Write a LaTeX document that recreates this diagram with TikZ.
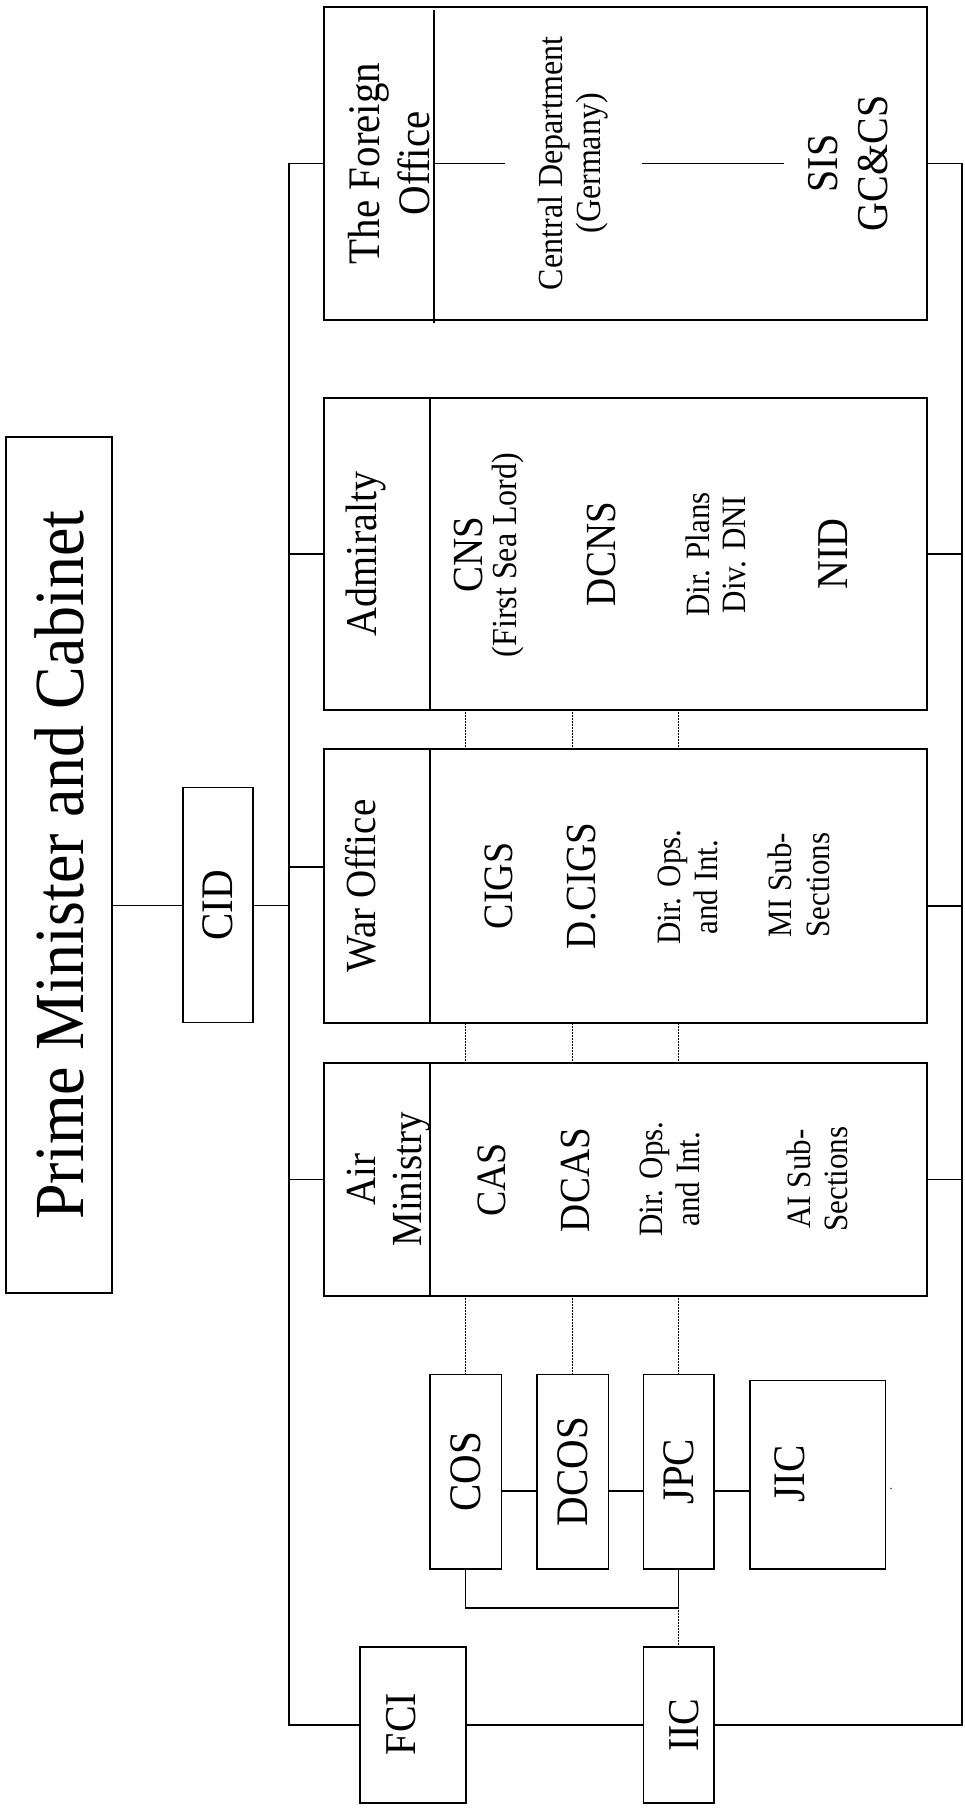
\documentclass[tikz,border=0pt]{standalone}
\usepackage{fontspec}
\setmainfont{Liberation Serif}
\usepackage{graphicx}
\newcommand\myfs[2]{\fontsize{#1}{#2}\selectfont}
\newcommand\rottxt[1]{\rotatebox{90}{\scalebox{1}[1.1]{#1}}}
\begin{document}
\begin{tikzpicture}[x=1pt,y=-1pt,
 box/.style={draw, line width=1.5pt, inner sep=0pt, outer sep=0pt, rectangle},
 dims/.style 2 args={minimum width=#1pt, minimum height=#2pt},
 conn/.style={line width=1.25pt},
 divline/.style={line width=1.4pt},
 dotconn/.style={line width=0.9pt, dash pattern=on 0.9pt off 0.6pt},
 lbl/.style={rotate=90, yscale=1.1, align=center, inner sep=0pt},
]
\fill[white] (0,0) rectangle (964,1809);
\path[use as bounding box] (0,0) rectangle (964,1809);

% top-level boxes
\node[box, dims={106}{856}, font=\myfs{64}{70}] (pm) at (59,865) {\rottxt{Prime Minister and Cabinet}};
\node[box, dims={70}{235}, font=\myfs{41}{48}] (cid) at (218,905.2) {\rottxt{CID}};

% ministry boxes
\node[box, dims={603}{313}] (fo) at (625.5,163.4) {};
\node[box, dims={603}{312.3}] (adm) at (625.5,553.9) {};
\node[box, dims={603}{273.7}] (wo) at (625.5,885.9) {};
\node[box, dims={603}{233.3}] (air) at (625.5,1179.4) {};

% dividers
\draw[divline] (434,10) -- (434,323);
\draw[divline] (430,397.7) -- (430,710);
\draw[divline] (430,749) -- (430,1022.7);
\draw[divline] (430,1062.7) -- (430,1296);

% committee boxes
\node[box, dims={71.5}{194.4}, font=\myfs{41}{48}] (cos) at (465.75,1471.8) {\rottxt{COS}};
\node[box, dims={71.5}{194.4}, font=\myfs{41}{48}] (dcos) at (572.75,1471.8) {\rottxt{DCOS}};
\node[box, dims={70.5}{194.4}, font=\myfs{41}{48}] (jpc) at (678.75,1471.8) {\rottxt{JPC}};
\node[box, dims={135.7}{188.4}] (jic) at (817.85,1474.8) {};
\node[box, dims={106}{156}] (fci) at (413,1725) {};
\node[box, dims={70.5}{156}] (iic) at (678.75,1725) {};

% Foreign Office texts
\node[lbl, font=\myfs{41}{46}] (fot) at (389,163.4) {The Foreign\\Office};
\node[lbl, font=\myfs{32}{35}] (cdt) at (573,163.4) {Central Department\\(Germany)};
\node[lbl, font=\myfs{40}{45}] (sist) at (848,163.4) {SIS\\GC\&CS};

% Admiralty texts
\node[lbl, font=\myfs{40}{48}] (admt) at (366,553.9) {Admiralty};
\node[lbl, font=\myfs{39}{46}] (cnst) at (469,554.5) {CNS};
\node[lbl, font=\myfs{32}{38}] (fslt) at (508.5,555) {(First Sea Lord)};
\node[lbl, font=\myfs{39}{46}] (dcnst) at (601,554) {DCNS};
\node[lbl, font=\myfs{31}{32}] (dpt) at (716,554.5) {Dir. Plans\\Div. DNI};
\node[lbl, font=\myfs{40}{48}] (nidt) at (833,554) {NID};

% War Office texts
\node[lbl, font=\myfs{39}{46}] (wot) at (361,885.9) {War Office};
\node[lbl, font=\myfs{38}{46}] (cigst) at (499,886) {CIGS};
\node[lbl, font=\myfs{39}{46}] (dcigst) at (582,886) {D.CIGS};
\node[lbl, font=\myfs{31}{33}] (dowt) at (688,887) {Dir. Ops.\\and Int.};
\node[lbl, font=\myfs{31}{34}] (mit) at (799,885) {MI Sub-\\Sections};

% Air Ministry texts
\node[lbl, font=\myfs{39}{42}] (airt) at (389,1179.4) {Air\\Ministry};
\node[lbl, font=\myfs{38}{46}] (cast) at (492,1180) {CAS};
\node[lbl, font=\myfs{39}{46}] (dcast) at (575,1180) {DCAS};
\node[lbl, font=\myfs{31}{33}] (doat) at (670,1179) {Dir. Ops.\\and Int.};
\node[lbl, font=\myfs{31}{34}] (ait) at (817.5,1179) {AI Sub-\\Sections};

% other committee texts
\node[lbl, font=\myfs{41}{48}] (jict) at (790,1474) {JIC};
\node[font=\myfs{12}{14}, inner sep=0pt] (dot) at (891,1489) {.};
\node[lbl, font=\myfs{40}{48}] (fcit) at (401,1724) {FCI};
\node[lbl, font=\myfs{40}{48}] (iict) at (684,1725) {IIC};

% bus coordinates
\coordinate (lb) at (289,0);
\coordinate (rb) at (962,0);
\coordinate (wol) at (0,867);
\coordinate (wor) at (0,906);
\coordinate (hl) at (0,1491);
\coordinate (br) at (678.75,1608);

% PM - CID - bus
\draw[conn] (cid.west) -- (cid.west -| pm.east);
\draw[conn] (cid.east) -- (cid.east -| lb);

% left bus
\draw[conn] (fo.west) -- (fo.west -| lb) |- (fci.west);
\draw[conn] (adm.west) -- (adm.west -| lb);
\draw[conn] (wo.west |- wol) -- (lb |- wol);
\draw[conn] (air.west) -- (air.west -| lb);

% right bus
\draw[conn] (fo.east) -- (fo.east -| rb) |- (iic.east);
\draw[conn] (adm.east) -- (adm.east -| rb);
\draw[conn] (wo.east |- wor) -- (rb |- wor);
\draw[conn] (air.east) -- (air.east -| rb);

% bottom
\draw[conn] (fci.east) -- (iic.west);

% Foreign Office internal lines
\coordinate (fa) at (434,163.4);
\coordinate (fb) at (505,163.4);
\coordinate (fc) at (642,163.4);
\coordinate (fd) at (784,163.4);
\draw[conn] (fa) -- (fb);
\draw[conn] (fc) -- (fd);

% dotted links between ministries and committees
\foreach \c in {cos,dcos,jpc}{
  \draw[dotconn] (\c |- adm.south) -- (\c |- wo.north);
  \draw[dotconn] (\c |- wo.south) -- (\c |- air.north);
  \draw[dotconn] (\c |- air.south) -- (\c.north);
}

% committee links
\draw[conn] (cos.east |- hl) -- (dcos.west |- hl);
\draw[conn] (dcos.east |- hl) -- (jpc.west |- hl);
\draw[conn] (jpc.east |- hl) -- (jic.west |- hl);
\draw[conn] (cos.south) |- (br) -- (jpc.south);
\draw[dotconn] (br) -- (iic.north);
\end{tikzpicture}
\end{document}
